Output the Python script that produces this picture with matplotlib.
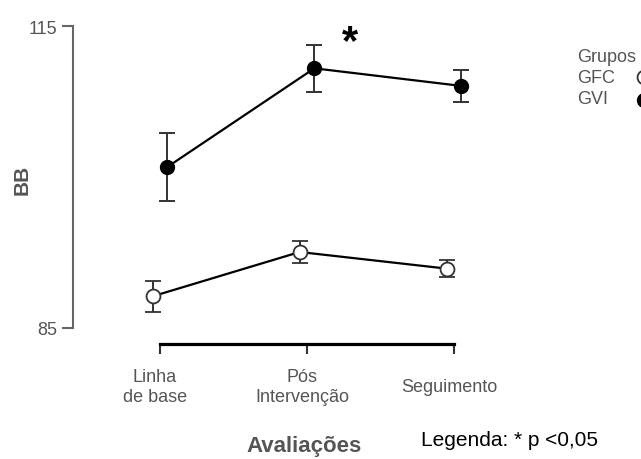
import matplotlib.pyplot as plt
import matplotlib.transforms as mtransforms
from matplotlib.lines import Line2D

plt.rcParams['font.family'] = ['Liberation Sans', 'DejaVu Sans']

# valores
avaliacoes = ['Linha\nde base', 'Pós\nIntervenção', 'Seguimento']
gvi_media = [101.0, 110.8, 109.05]
gvi_erro = [3.4, 2.35, 1.55]
gfc_media = [88.15, 92.55, 90.9]
gfc_erro = [1.55, 1.07, 0.85]

GRAY = '#555555'
DARK = '#333333'

fig = plt.figure(figsize=(6.41, 4.60), dpi=100)
ax = fig.add_axes([73/641, 1-345/460, (520-73)/641, (345-20)/460])

x = list(range(len(avaliacoes)))
off = 0.05
x_gvi = [i + off for i in x]
x_gfc = [i - off for i in x]

ax.errorbar(x_gvi, gvi_media, yerr=gvi_erro, color='black', lw=1.6,
            marker='o', ms=10, mfc='black', mec='black',
            ecolor=DARK, elinewidth=1.4, capsize=5.5, capthick=1.4, zorder=3)
ax.errorbar(x_gfc, gfc_media, yerr=gfc_erro, color='black', lw=1.6,
            marker='o', ms=10, mfc='white', mec=DARK, mew=1.3,
            ecolor=DARK, elinewidth=1.4, capsize=5.5, capthick=1.4, zorder=3)

ax.set_xlim(-0.592, 2.449)
ax.set_ylim(83.41, 115.7)

for s in ['top', 'right']:
    ax.spines[s].set_visible(False)
ax.spines['left'].set_bounds(85, 115)
ax.spines['left'].set_color('#666666')
ax.spines['left'].set_linewidth(1.5)
ax.spines['bottom'].set_bounds(0, 2)
ax.spines['bottom'].set_color('black')
ax.spines['bottom'].set_linewidth(2.3)

ax.set_yticks([85, 115])
ax.tick_params(axis='y', length=8, width=1.5, color='#666666',
               labelsize=13, labelcolor=GRAY, pad=3)
ax.set_xticks(x)
ax.set_xticklabels(avaliacoes, va='center', linespacing=1.25)
ax.tick_params(axis='x', length=7.5, width=1.5, color=DARK,
               labelsize=13, labelcolor=GRAY, pad=23)
shift = mtransforms.ScaledTranslation(-5/100, 0, fig.dpi_scale_trans)
for lab in ax.get_xticklabels():
    lab.set_transform(lab.get_transform() + shift)

ax.text(1.29, 113.4, '*', fontsize=30, fontweight='bold', ha='center', va='center')

fig.text(304/641, 13/460, 'Avaliações', fontsize=16, fontweight='bold',
         color=GRAY, ha='center', va='center')
fig.text(22/641, 1-180/460, 'BB', fontsize=15, fontweight='bold',
         color=GRAY, ha='center', va='center', rotation=90)
fig.text(421/641, 19/460, 'Legenda: * p <0,05', fontsize=15,
         color='black', ha='left', va='center')

# legenda (cortada na borda direita)
fig.text(577/641, 1-57/460, 'Grupos', fontsize=13, color=GRAY, ha='left', va='center')
fig.text(577/641, 1-78.5/460, 'GFC', fontsize=13, color=GRAY, ha='left', va='center')
fig.text(577/641, 1-100/460, 'GVI', fontsize=13, color=GRAY, ha='left', va='center')
fig.add_artist(Line2D([644/641], [1-78/460], marker='o', ms=10, mfc='white',
                      mec=DARK, mew=1.3, transform=fig.transFigure))
fig.add_artist(Line2D([644/641], [1-101/460], marker='o', ms=10, mfc='black',
                      mec='black', transform=fig.transFigure))

fig.savefig('out.png', dpi=100)
